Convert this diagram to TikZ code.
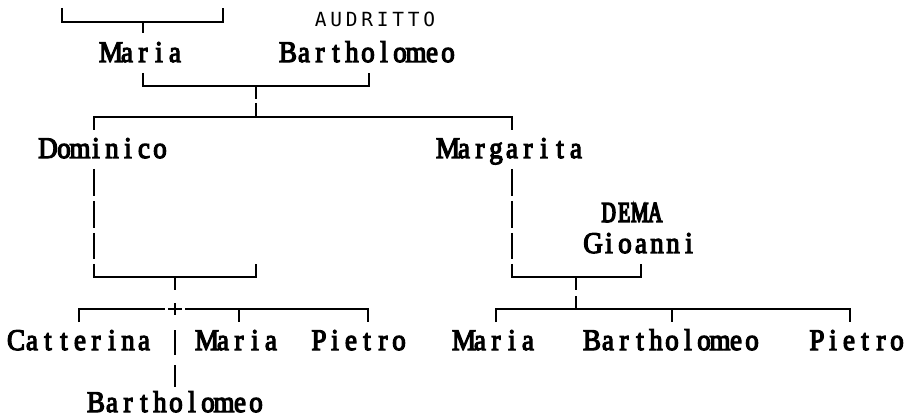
\documentclass[tikz,border=0pt]{standalone}
\usepackage{fontspec}
\newfontfamily\minc[FakeStretch=0.9,FakeBold=4]{Liberation Serif}
\newfontfamily\mincn[FakeStretch=0.68,FakeBold=5]{Liberation Serif}
\newfontfamily\dvs{DejaVu Sans Mono}
\newlength\cw
\makeatletter
\newcommand\mono[2]{\setlength\cw{#1}\@tfor\mych:=#2\do{\makebox[\cw][c]{\mych}}}
\makeatother
\begin{document}
\begin{tikzpicture}[x=1pt,y=-1pt,
  ln/.style={line width=1.8pt},
  dl/.style={line width=1.8pt,dash pattern=on 27pt off 5pt},
  nm/.style={anchor=base,inner sep=0pt,text depth=0pt,font=\minc\fontsize{30}{30}\selectfont},
  sn/.style={anchor=base,inner sep=0pt,text depth=0pt,font=\dvs\fontsize{19.5}{19.5}\selectfont}]
\useasboundingbox (0,0) rectangle (906,417);
% names
\node[nm] (mariaT) at (143,62) {\mono{16pt}{Maria}};
\node[sn] (aud) at (375,27) {\mono{15.5pt}{AUDRITTO}};
\node[nm] (barT) at (368,62) {\mono{16pt}{Bartholomeo}};
\node[nm] (dom) at (104,158) {\mono{16pt}{Dominico}};
\node[nm] (marg) at (512,158) {\mono{16pt}{Margarita}};
\node[nm,font=\mincn\fontsize{29}{29}\selectfont] (dema) at (632,222) {\mono{15.5pt}{DEMA}};
\node[nm] (gio) at (641,253) {\mono{16pt}{Gioanni}};
\node[nm] (cat) at (80,350) {\mono{16pt}{Catterina}};
\node[nm] (mariaL) at (239,350) {\mono{16pt}{Maria}};
\node[nm] (pietL) at (359,350) {\mono{16pt}{Pietro}};
\node[nm] (barB) at (176,412) {\mono{16pt}{Bartholomeo}};
\node[nm] (mariaR) at (496,350) {\mono{16pt}{Maria}};
\node[nm] (barR) at (672,350) {\mono{16pt}{Bartholomeo}};
\node[nm] (pietR) at (857,350) {\mono{16pt}{Pietro}};
% top bracket
\coordinate (tbL) at (62,8); \coordinate (tbR) at (223,8);
\coordinate (tbJ) at (143,22); \coordinate (tbS) at (143,33);
\draw[ln] (tbL) |- (tbJ) -| (tbR);
\draw[ln] (tbJ) -- (tbS);
% parents bracket
\coordinate (pbL) at (143,73); \coordinate (pbR) at (369,73);
\coordinate (pbJ) at (256,86);
\coordinate (pbS1) at (256,99); \coordinate (pbS2) at (256,103);
\coordinate (sibJ) at (256,117);
\draw[ln] (pbL) |- (pbJ) -| (pbR);
\draw[ln] (pbJ) -- (pbS1);
\draw[ln] (pbS2) -- (sibJ);
\coordinate (sibL) at (94,130); \coordinate (sibR) at (512,130);
\draw[ln] (sibL) |- (sibJ) -| (sibR);
% Dominico
\coordinate (dv1) at (94,169); \coordinate (dv2) at (94,259);
\draw[dl] (dv1) -- (dv2);
\coordinate (dbL) at (94,264); \coordinate (dbR) at (256,264);
\coordinate (dbJ) at (175,277); \coordinate (dbS) at (175,290);
\draw[ln] (dbL) |- (dbJ) -| (dbR);
\draw[ln] (dbJ) -- (dbS);
\coordinate (plT) at (175,303); \coordinate (plB) at (175,315);
\coordinate (plL) at (168,309); \coordinate (plR) at (182,309);
\draw[ln] (plT) -- (plB);
\draw[ln] (plL) -- (plR);
\coordinate (lcL) at (79,322); \coordinate (lcLJ) at (165,309);
\coordinate (lcRJ) at (185,309); \coordinate (lcR) at (368,322);
\coordinate (lcM) at (239,309); \coordinate (lcMe) at (239,322);
\draw[ln] (lcL) |- (lcLJ);
\draw[ln] (lcRJ) -| (lcR);
\draw[ln] (lcM) -- (lcMe);
\coordinate (pp1) at (175,330); \coordinate (pp2) at (175,355);
\coordinate (pp3) at (175,365); \coordinate (pp4) at (175,387);
\draw[ln] (pp1) -- (pp2);
\draw[ln] (pp3) -- (pp4);
% Margarita
\coordinate (mv1) at (512,169); \coordinate (mv2) at (512,259);
\draw[dl] (mv1) -- (mv2);
\coordinate (mbL) at (512,264); \coordinate (mbR) at (641,264);
\coordinate (mbJ) at (576,277); \coordinate (mbS1) at (576,290);
\coordinate (mbS2) at (576,296); \coordinate (rcJ) at (576,309);
\draw[ln] (mbL) |- (mbJ) -| (mbR);
\draw[ln] (mbJ) -- (mbS1);
\draw[ln] (mbS2) -- (rcJ);
\coordinate (rcL) at (496,322); \coordinate (rcR) at (850,322);
\coordinate (rcM) at (672,309); \coordinate (rcMe) at (672,322);
\draw[ln] (rcL) |- (rcJ) -| (rcR);
\draw[ln] (rcM) -- (rcMe);
\end{tikzpicture}
\end{document}
